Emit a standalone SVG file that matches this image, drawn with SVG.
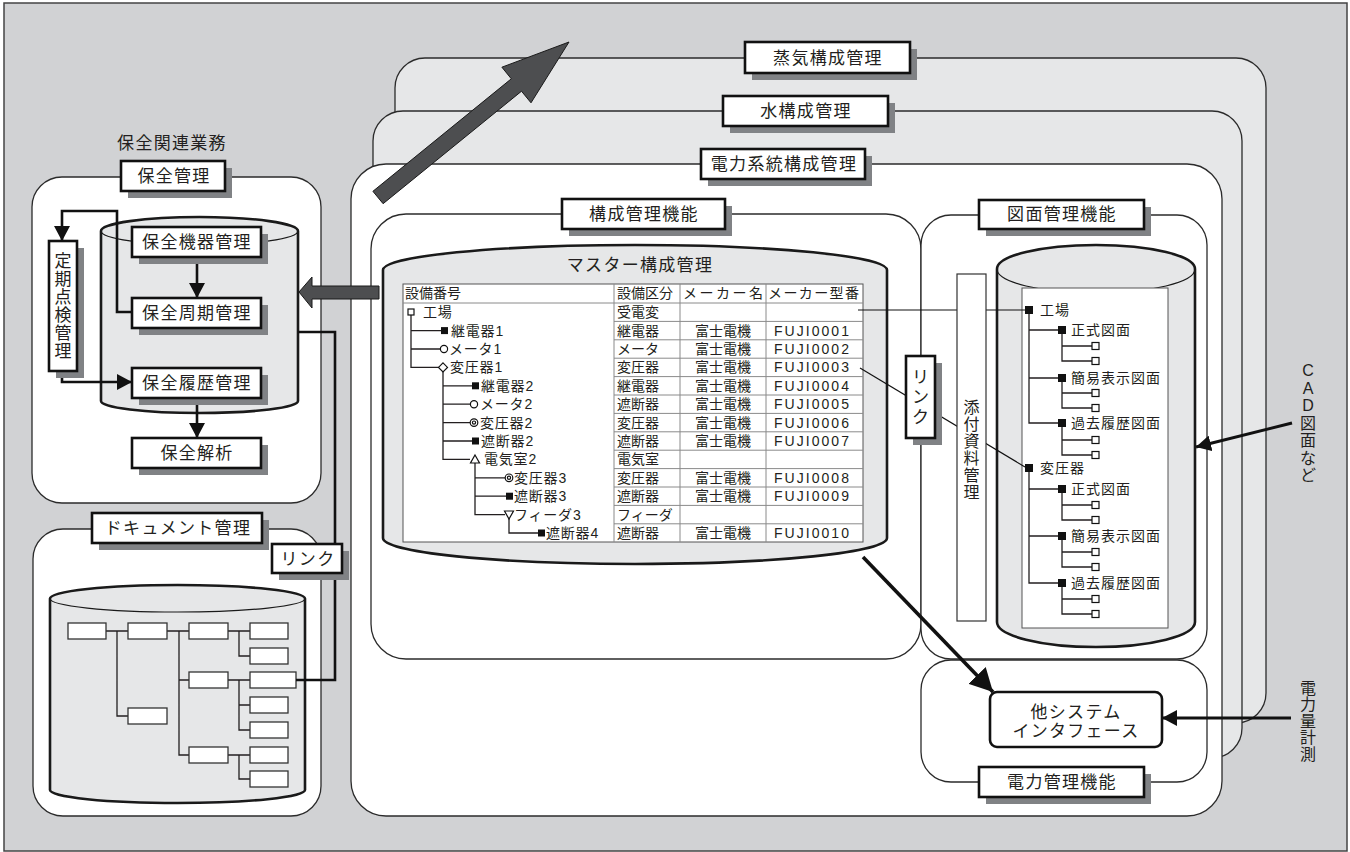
<svg xmlns="http://www.w3.org/2000/svg" width="1350" height="852" viewBox="0 0 1350 852">
<defs>
<style>
text{font-family:'Liberation Sans','Noto Sans CJK JP',sans-serif;fill:#231f20}
.pl{fill:#fff;stroke:#2b2b2b;stroke-width:1.3}
.pg{fill:#e6e7e8;stroke:#2b2b2b;stroke-width:1.3}
.sh{fill:#808285}
.lb{fill:#fff;stroke:#111;stroke-width:2.6}
.t17{font-size:17px;letter-spacing:1.3px}
.t16{font-size:16px}
.t14{font-size:14px}
.tr{font-size:14px;letter-spacing:0.8px}
.mid{text-anchor:middle}
.cyl{fill:#e6e7e8;stroke:#1a1a1a;stroke-width:2.6}
.fr{fill:none;stroke:#1a1a1a;stroke-width:1.2}
.tl{fill:none;stroke:#231f20;stroke-width:1.3}
.rowl{stroke:#8a8a8a;stroke-width:1}
.conn{fill:none;stroke:#111;stroke-width:2.6}
.thin{fill:none;stroke:#111;stroke-width:1.2}
.bx{fill:#fff;stroke:#333;stroke-width:1.3}
.fb{fill:#111}
.ob{fill:#fff;stroke:#111;stroke-width:1.2}
.big{fill:#4d4e50;stroke:#1a1a1a;stroke-width:1}
.vt{font-size:17px}
</style>
<marker id="ah" viewBox="0 0 15 16" refX="15" refY="8" markerWidth="15" markerHeight="16" markerUnits="userSpaceOnUse" orient="auto"><path d="M0,0 L15,8 L0,16 z" fill="#111"/></marker>
<marker id="ahb" viewBox="0 0 23 24" refX="23" refY="12" markerWidth="23" markerHeight="24" markerUnits="userSpaceOnUse" orient="auto"><path d="M0,0 L23,12 L0,24 z" fill="#111"/></marker>
</defs>

<rect x="4" y="3" width="1343" height="848" fill="#d1d2d4" stroke="#444" stroke-width="1.5"/>

<g id="containers">
<rect id="steam-panel" class="pg" x="395" y="58" width="871" height="665" rx="30"/>
<rect id="water-panel" class="pg" x="373" y="111" width="869" height="647" rx="30"/>
<rect id="power-panel" class="pl" x="351" y="164" width="871" height="652" rx="35"/>
<rect id="config-panel" class="pl" x="371" y="214" width="550" height="445" rx="35"/>
<rect id="drawing-panel" class="pl" x="921" y="215" width="286" height="444" rx="30"/>
<rect id="energy-panel" class="pl" x="921" y="660" width="286" height="122" rx="30"/>
<rect id="maint-panel" class="pl" x="32" y="177" width="289" height="326" rx="30"/>
<rect id="doc-panel" class="pl" x="33" y="529" width="288" height="287" rx="30"/>
<text class="t17" x="172" y="149" text-anchor="middle">保全関連業務</text>
</g>

<g id="maint-db">
<path class="cyl" d="M101,231 A98.5,14 0 0 1 298,231 L298,401 A98.5,12 0 0 1 101,401 Z"/>
<path class="fr" d="M101,231 A98.5,14 0 0 0 298,231"/>
</g>

<g id="doc-db">
<path class="cyl" d="M50,598.5 A127.5,13.5 0 0 1 305,598.5 L305,790 A127.5,13 0 0 1 50,790 Z"/>
<path class="fr" d="M50,598.5 A127.5,13.5 0 0 0 305,598.5"/>
<g class="tl">
<path d="M106,631 H128 M117,631 V716 H128 M167,631 H189 M179,631 V755 H189 M179,680 H189 M228,631 H250 M239,631 V656 H250 M228,680 H250 M239,680 V730 H250 M239,705 H250 M228,755 H250 M239,755 V779 H250"/>
</g>
<rect class="bx" x="68" y="623" width="38" height="16"/>
<rect class="bx" x="128" y="623" width="39" height="16"/>
<rect class="bx" x="189" y="623" width="39" height="16"/>
<rect class="bx" x="250" y="623" width="38" height="16"/>
<rect class="bx" x="250" y="648" width="38" height="16"/>
<rect class="bx" x="189" y="672" width="39" height="16"/>
<rect class="bx" x="250" y="672" width="46" height="16"/>
<rect class="bx" x="250" y="697" width="38" height="16"/>
<rect class="bx" x="128" y="708" width="39" height="16"/>
<rect class="bx" x="250" y="722" width="38" height="16"/>
<rect class="bx" x="189" y="747" width="39" height="16"/>
<rect class="bx" x="250" y="747" width="38" height="16"/>
<rect class="bx" x="250" y="771" width="38" height="16"/>
</g>

<g id="master-db">
<path class="cyl" d="M383,270 A252,25 0 0 1 887,270 L887,538 A252,26 0 0 1 383,538 Z"/>
<text class="t17" x="640" y="271" text-anchor="middle">マスター構成管理</text>
<rect x="403" y="284" width="460" height="258" fill="#fff" stroke="#555" stroke-width="1"/>
<g class="rowl">
<line x1="403" y1="303" x2="863" y2="303"/>
<line x1="614" y1="284" x2="614" y2="542"/>
<line x1="680" y1="284" x2="680" y2="542"/>
<line x1="766" y1="284" x2="766" y2="542"/>
<path d="M614,321.4 H863 M614,339.8 H863 M614,358.2 H863 M614,376.6 H863 M614,395 H863 M614,413.4 H863 M614,431.8 H863 M614,450.2 H863 M614,468.6 H863 M614,487 H863 M614,505.4 H863 M614,523.8 H863"/>
</g>
<g class="t14">
<text x="405" y="298">設備番号</text>
<text x="617" y="298">設備区分</text>
<text x="683" y="298" textLength="80" lengthAdjust="spacing">メーカー名</text>
<text x="768" y="298" textLength="91" lengthAdjust="spacing">メーカー型番</text>
</g>
<g class="tl">
<path d="M411,315 V367.4 H439 M411,330.6 H441 M411,349 H440 M443,372 V459.4 H470 M443,385.8 H472 M443,404.2 H470 M443,422.6 H470 M443,441 H472 M475,463 V514.6 H505 M475,477.8 H505 M475,496.2 H506 M509,518 V533 H538"/>
</g>
<rect x="408" y="309" width="6" height="6" class="ob"/>
<rect x="441" y="327.1" width="7" height="7" class="fb"/>
<circle cx="444" cy="349" r="3.6" class="ob"/>
<path d="M443,362.9 L447.5,367.4 L443,371.9 L438.5,367.4 Z" class="ob"/>
<rect x="472" y="382.3" width="7" height="7" class="fb"/>
<circle cx="474" cy="404.2" r="3.6" class="ob"/>
<circle cx="474" cy="422.6" r="3.8" class="ob"/><circle cx="474" cy="422.6" r="1.6" class="ob"/>
<rect x="472" y="437.5" width="7" height="7" class="fb"/>
<path d="M475,455 L479.5,463 L470.5,463 Z" class="ob"/>
<circle cx="509" cy="477.8" r="3.8" class="ob"/><circle cx="509" cy="477.8" r="1.6" class="ob"/>
<rect x="506" y="492.7" width="7" height="7" class="fb"/>
<path d="M504.5,511 L513.5,511 L509,519 Z" class="ob"/>
<rect x="538" y="529.5" width="7" height="7" class="fb"/>
<g class="tr">
<text x="423" y="317">工場</text>
<text x="451" y="335.6">継電器1</text>
<text x="449" y="354">メータ1</text>
<text x="450" y="372.4">変圧器1</text>
<text x="481" y="390.8">継電器2</text>
<text x="480" y="409.2">メータ2</text>
<text x="480" y="427.6">変圧器2</text>
<text x="481" y="446">遮断器2</text>
<text x="484" y="464.4">電気室2</text>
<text x="514" y="482.8">変圧器3</text>
<text x="514" y="501.2">遮断器3</text>
<text x="514" y="519.6">フィーダ3</text>
<text x="546" y="538">遮断器4</text>
</g>
<g class="t14">
<text x="617" y="317.2">受電変</text>
<text x="617" y="335.6">継電器</text>
<text x="617" y="354">メータ</text>
<text x="617" y="372.4">変圧器</text>
<text x="617" y="390.8">継電器</text>
<text x="617" y="409.2">遮断器</text>
<text x="617" y="427.6">変圧器</text>
<text x="617" y="446">遮断器</text>
<text x="617" y="464.4">電気室</text>
<text x="617" y="482.8">変圧器</text>
<text x="617" y="501.2">遮断器</text>
<text x="617" y="519.6">フィーダ</text>
<text x="617" y="538">遮断器</text>
</g>
<g class="t14 mid">
<text x="723" y="335.6">富士電機</text>
<text x="723" y="354">富士電機</text>
<text x="723" y="372.4">富士電機</text>
<text x="723" y="390.8">富士電機</text>
<text x="723" y="409.2">富士電機</text>
<text x="723" y="427.6">富士電機</text>
<text x="723" y="446">富士電機</text>
<text x="723" y="482.8">富士電機</text>
<text x="723" y="501.2">富士電機</text>
<text x="723" y="538">富士電機</text>
</g>
<g class="t14">
<text x="774" y="335.6" textLength="75" lengthAdjust="spacing">FUJI0001</text>
<text x="774" y="354" textLength="75" lengthAdjust="spacing">FUJI0002</text>
<text x="774" y="372.4" textLength="75" lengthAdjust="spacing">FUJI0003</text>
<text x="774" y="390.8" textLength="75" lengthAdjust="spacing">FUJI0004</text>
<text x="774" y="409.2" textLength="75" lengthAdjust="spacing">FUJI0005</text>
<text x="774" y="427.6" textLength="75" lengthAdjust="spacing">FUJI0006</text>
<text x="774" y="446" textLength="75" lengthAdjust="spacing">FUJI0007</text>
<text x="774" y="482.8" textLength="75" lengthAdjust="spacing">FUJI0008</text>
<text x="774" y="501.2" textLength="75" lengthAdjust="spacing">FUJI0009</text>
<text x="774" y="538" textLength="75" lengthAdjust="spacing">FUJI0010</text>
</g>
</g>

<g id="drawing-db">
<path class="cyl" d="M997,269 A99,24 0 0 1 1195,269 L1195,622 A99,25 0 0 1 997,622 Z"/>
<path class="fr" d="M997,269 A99,24 0 0 0 1195,269"/>
<rect x="1022" y="288" width="146" height="340" fill="#fff" stroke="#555" stroke-width="1"/>
<g class="tl">
<path d="M1029,314 V423 H1058 M1029,330 H1058 M1029,378 H1058 M1062,334 V361 H1092 M1062,346 H1092 M1062,382 V408 H1092 M1062,393 H1092 M1062,427 V455 H1092 M1062,440 H1092"/>
<path d="M1029,472 V583 H1058 M1029,489 H1058 M1029,536 H1058 M1062,493 V520 H1092 M1062,505 H1092 M1062,540 V567 H1092 M1062,552 H1092 M1062,587 V614 H1092 M1062,599 H1092"/>
</g>
<rect class="fb" x="1025" y="306" width="8" height="8"/>
<rect class="fb" x="1058" y="326" width="8" height="8"/>
<rect class="fb" x="1058" y="374" width="8" height="8"/>
<rect class="fb" x="1058" y="419" width="8" height="8"/>
<rect class="fb" x="1025" y="464" width="8" height="8"/>
<rect class="fb" x="1058" y="485" width="8" height="8"/>
<rect class="fb" x="1058" y="532" width="8" height="8"/>
<rect class="fb" x="1058" y="579" width="8" height="8"/>
<g class="ob">
<rect x="1092" y="342.5" width="7" height="7"/><rect x="1092" y="357.5" width="7" height="7"/>
<rect x="1092" y="389.5" width="7" height="7"/><rect x="1092" y="404.5" width="7" height="7"/>
<rect x="1092" y="436.5" width="7" height="7"/><rect x="1092" y="451.5" width="7" height="7"/>
<rect x="1092" y="501.5" width="7" height="7"/><rect x="1092" y="516.5" width="7" height="7"/>
<rect x="1092" y="548.5" width="7" height="7"/><rect x="1092" y="563.5" width="7" height="7"/>
<rect x="1092" y="595.5" width="7" height="7"/><rect x="1092" y="610.5" width="7" height="7"/>
</g>
<g class="t14" letter-spacing="1">
<text x="1040" y="315">工場</text>
<text x="1071" y="335">正式図面</text>
<text x="1071" y="383">簡易表示図面</text>
<text x="1071" y="428">過去履歴図面</text>
<text x="1040" y="473">変圧器</text>
<text x="1071" y="494">正式図面</text>
<text x="1071" y="541">簡易表示図面</text>
<text x="1071" y="588">過去履歴図面</text>
</g>
</g>

<g id="connectors">
<line class="conn" x1="197" y1="257" x2="197" y2="298" marker-end="url(#ah)"/>
<line class="conn" x1="197" y1="398" x2="197" y2="438" marker-end="url(#ah)"/>
<path class="conn" d="M132,312 H117 V211 H62 V241" marker-end="url(#ah)"/>
<path class="conn" d="M62,371 V382 H132" marker-end="url(#ah)"/>
<path class="conn" d="M298,332 H335 V680 H296"/>
<polygon class="big" points="299,292 312,277 312,286 379,286 379,299 312,299 312,308"/>
<polygon class="big" points="372.9,191.3 511.3,78.8 501.9,67.2 569,42 531,102.8 521.5,91.2 383.1,203.7"/>
<line class="thin" x1="858" y1="310" x2="1025" y2="310"/>
<line class="thin" x1="860" y1="368" x2="1025" y2="467"/>
<line x1="863" y1="557" x2="993" y2="692" stroke="#111" stroke-width="3.6" marker-end="url(#ahb)"/>
<line x1="1292" y1="423" x2="1196" y2="447" stroke="#111" stroke-width="3" marker-end="url(#ah)"/>
<line x1="1291" y1="718" x2="1162" y2="718" stroke="#111" stroke-width="3" marker-end="url(#ah)"/>
</g>

<g id="lbl-steam"><rect class="sh" x="752" y="49" width="165" height="31"/><rect class="lb" x="745" y="42" width="165" height="31"/><text class="t17 mid" x="828" y="64">蒸気構成管理</text></g>
<g id="lbl-water"><rect class="sh" x="730" y="103" width="165" height="30"/><rect class="lb" x="723" y="96" width="165" height="30"/><text class="t17 mid" x="806" y="117">水構成管理</text></g>
<g id="lbl-power"><rect class="sh" x="708" y="156" width="164" height="30"/><rect class="lb" x="701" y="149" width="164" height="30"/><text class="t17 mid" x="784" y="170">電力系統構成管理</text></g>
<g id="lbl-config"><rect class="sh" x="569" y="206" width="163" height="30"/><rect class="lb" x="562" y="199" width="163" height="30"/><text class="t17 mid" x="644" y="220">構成管理機能</text></g>
<g id="lbl-drawing"><rect class="sh" x="986" y="207" width="165" height="29"/><rect class="lb" x="979" y="200" width="165" height="29"/><text class="t17 mid" x="1062" y="220">図面管理機能</text></g>
<g id="lbl-energy"><rect class="sh" x="986" y="774" width="165" height="30"/><rect class="lb" x="979" y="767" width="165" height="30"/><text class="t17 mid" x="1062" y="788">電力管理機能</text></g>
<g id="lbl-maint"><rect class="sh" x="128" y="168" width="104" height="30"/><rect class="lb" x="121" y="161" width="104" height="30"/><text class="t17 mid" x="174" y="182">保全管理</text></g>
<g id="node-equip"><rect class="sh" x="139" y="234" width="129" height="30"/><rect class="lb" x="132" y="227" width="129" height="30"/><text class="t17 mid" x="197" y="248">保全機器管理</text></g>
<g id="node-cycle"><rect class="sh" x="139" y="305" width="129" height="30"/><rect class="lb" x="132" y="298" width="129" height="30"/><text class="t17 mid" x="197" y="319">保全周期管理</text></g>
<g id="node-history"><rect class="sh" x="139" y="375" width="129" height="30"/><rect class="lb" x="132" y="368" width="129" height="30"/><text class="t17 mid" x="197" y="389">保全履歴管理</text></g>
<g id="node-analysis"><rect class="sh" x="139" y="445" width="129" height="30"/><rect class="lb" x="132" y="438" width="129" height="30"/><text class="t17 mid" x="197" y="459">保全解析</text></g>
<g id="node-periodic"><rect class="sh" x="56" y="248" width="28" height="130"/><rect class="lb" x="49" y="241" width="28" height="130"/>
<text class="vt mid"><tspan x="63" y="267">定</tspan><tspan x="63" y="285">期</tspan><tspan x="63" y="303">点</tspan><tspan x="63" y="321">検</tspan><tspan x="63" y="339">管</tspan><tspan x="63" y="357">理</tspan></text></g>
<g id="lbl-doc"><rect class="sh" x="99" y="520" width="170" height="30"/><rect class="lb" x="92" y="513" width="170" height="30"/><text class="t17 mid" x="178" y="534">ドキュメント管理</text></g>
<g id="node-link1"><rect class="sh" x="279" y="551" width="70" height="29"/><rect class="lb" x="272" y="544" width="70" height="29"/><text class="t17 mid" x="308" y="565">リンク</text></g>
<g id="node-link2"><rect class="sh" x="913" y="363" width="29" height="82"/><rect class="lb" x="906" y="356" width="29" height="82"/>
<text class="vt mid"><tspan x="920.5" y="383">リ</tspan><tspan x="920.5" y="403">ン</tspan><tspan x="920.5" y="423">ク</tspan></text></g>
<g id="node-attach"><rect x="957" y="274" width="29" height="347" fill="#fff" stroke="#333" stroke-width="1.2"/>
<text class="t16 mid"><tspan x="971.5" y="413">添</tspan><tspan x="971.5" y="430">付</tspan><tspan x="971.5" y="447">資</tspan><tspan x="971.5" y="464">料</tspan><tspan x="971.5" y="481">管</tspan><tspan x="971.5" y="498">理</tspan></text></g>
<g id="node-other"><rect x="990" y="692" width="172" height="55" rx="7" fill="#fff" stroke="#111" stroke-width="2.6"/>
<text class="t17 mid" x="1076" y="718">他システム</text><text class="t17 mid" x="1076" y="737">インタフェース</text></g>
<g id="lbl-cad"><text class="t16 mid"><tspan x="1308" y="376">C</tspan><tspan x="1308" y="394">A</tspan><tspan x="1308" y="411">D</tspan><tspan x="1308" y="429">図</tspan><tspan x="1308" y="446">面</tspan><tspan x="1308" y="464">な</tspan><tspan x="1308" y="481">ど</tspan></text></g>
<g id="lbl-meter"><text class="t16 mid"><tspan x="1308" y="694">電</tspan><tspan x="1308" y="710">力</tspan><tspan x="1308" y="727">量</tspan><tspan x="1308" y="743">計</tspan><tspan x="1308" y="760">測</tspan></text></g>
</svg>
